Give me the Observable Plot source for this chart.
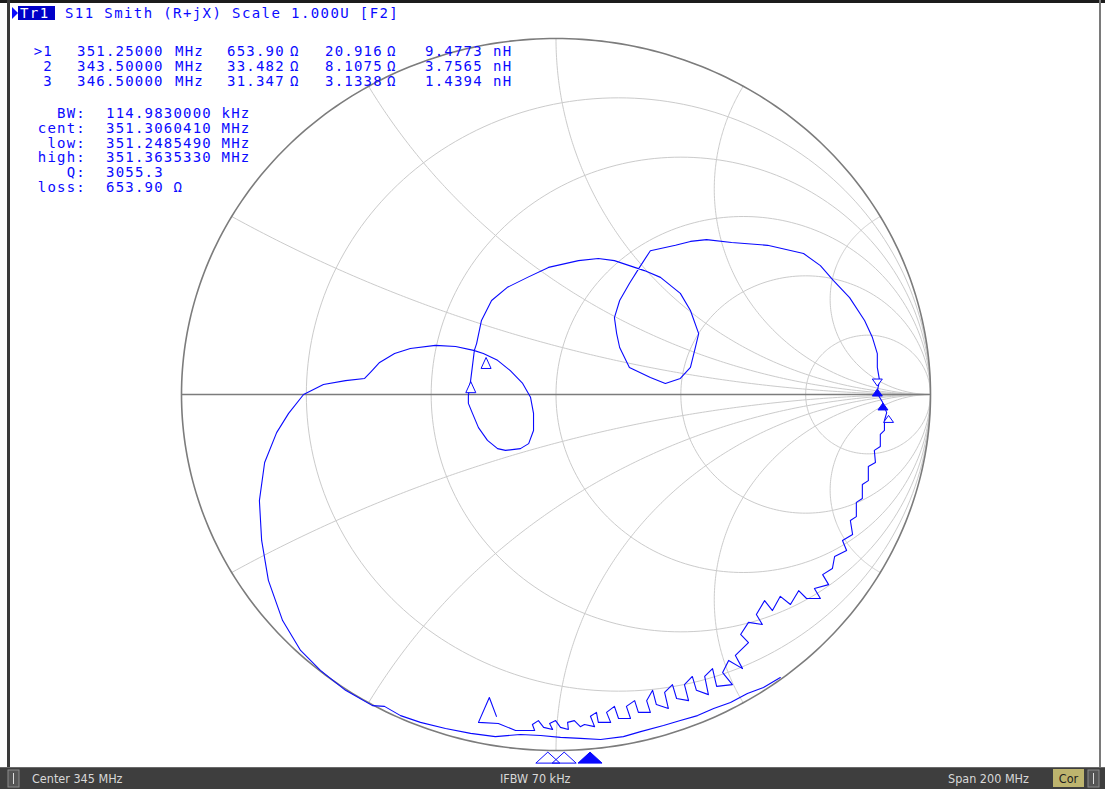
<!DOCTYPE html>
<html><head><meta charset="utf-8">
<script src="https://cdn.jsdelivr.net/npm/d3@7"></script>
<script src="https://cdn.jsdelivr.net/npm/@observablehq/plot@0.6"></script>
<style>
html,body{margin:0;padding:0;background:#fff;overflow:hidden}
#chart{position:relative;width:1105px;height:789px}
</style>
</head><body><div id="chart"></div>
<script>
// ---- grid values (normalised resistance circles / reactance arcs) ----
const rGrid = [0.2, 0.5, 1, 2, 5];
const xGrid = [0.268, 0.577, 1, 1.732, 3.732];

// ---- S11 trace, reflection coefficient ----
const traceRe = [0.599,0.554,0.511,0.466,0.421,0.378,0.332,0.287,0.226,0.180,0.119,0.065,0.012,-0.041,-0.095,-0.162,-0.228,-0.295,-0.362,-0.415,-0.458,-0.490,-0.562,-0.629,-0.682,-0.730,-0.768,-0.786,-0.792,-0.778,-0.746,-0.714,-0.674,-0.621,-0.562,-0.511,-0.493,-0.471,-0.431,-0.389,-0.322,-0.268,-0.220,-0.194,-0.156,-0.122,-0.089,-0.068,-0.060,-0.060,-0.073,-0.095,-0.135,-0.156,-0.183,-0.207,-0.223,-0.234,-0.234,-0.228,-0.223,-0.218,-0.212,-0.199,-0.172,-0.130,-0.076,-0.020,0.060,0.113,0.156,0.196,0.236,0.279,0.332,0.359,0.381,0.372,0.359,0.332,0.292,0.252,0.196,0.170,0.162,0.156,0.170,0.196,0.223,0.252,0.319,0.359,0.402,0.469,0.565,0.661,0.706,0.741,0.784,0.824,0.845,0.858,0.858,0.864,0.857,
0.872,0.883,0.877,0.877,0.866,0.866,0.850,0.853,0.834,0.834,0.818,0.818,0.802,0.802,0.786,0.792,0.765,0.776,0.744,0.738,0.712,0.728,0.690,0.706,0.669,0.648,0.626,0.599,0.578,0.557,0.535,0.551,0.514,0.493,0.514,
0.479,0.498,0.461,0.445,0.471,0.429,0.418,0.397,0.407,0.375,0.364,0.343,0.354,0.322,0.311,0.290,0.300,0.268,0.258,0.242,0.252,0.220,0.210,0.188,0.199,0.167,0.156,0.135,0.146,0.113,0.108,0.092,0.103,0.076,
0.065,0.049,0.031,0.033,0.012,-0.001,-0.017,-0.009,-0.033,-0.047,-0.063,-0.057,-0.108,-0.154,-0.207,-0.178,-0.159];
const traceIm = [-0.795,-0.823,-0.840,-0.865,-0.882,-0.902,-0.916,-0.930,-0.947,-0.961,-0.969,-0.966,-0.963,-0.958,-0.955,-0.961,-0.952,-0.938,-0.921,-0.902,-0.876,-0.874,-0.831,-0.775,-0.719,-0.635,-0.522,-0.410,-0.298,-0.191,-0.107,-0.053,0.000,0.028,0.039,0.045,0.065,0.090,0.115,0.129,0.138,0.135,0.124,0.115,0.096,0.067,0.031,-0.008,-0.053,-0.101,-0.138,-0.152,-0.157,-0.152,-0.129,-0.093,-0.053,-0.025,-0.003,0.039,0.081,0.124,0.143,0.208,0.264,0.301,0.329,0.357,0.376,0.382,0.376,0.362,0.348,0.329,0.284,0.236,0.171,0.132,0.076,0.045,0.031,0.048,0.076,0.132,0.171,0.216,0.264,0.312,0.357,0.404,0.419,0.430,0.435,0.427,0.419,0.396,0.362,0.320,0.272,0.208,0.160,0.115,0.076,0.039,0.005,
-0.022,-0.051,-0.073,-0.101,-0.112,-0.146,-0.157,-0.191,-0.202,-0.242,-0.253,-0.292,-0.303,-0.343,-0.354,-0.393,-0.410,-0.438,-0.455,-0.489,-0.506,-0.534,-0.545,-0.573,-0.573,-0.551,-0.590,-0.567,-0.607,-0.579,-0.618,-0.646,-0.640,-0.674,-0.697,
-0.733,-0.770,-0.747,-0.781,-0.815,-0.820,-0.770,-0.792,-0.843,-0.831,-0.792,-0.815,-0.860,-0.854,-0.815,-0.837,-0.882,-0.871,-0.831,-0.860,-0.893,-0.893,-0.860,-0.876,-0.910,-0.910,-0.876,-0.893,-0.921,-0.921,-0.893,-0.904,-0.933,-0.927,
-0.933,-0.916,-0.921,-0.941,-0.935,-0.916,-0.924,-0.941,-0.935,-0.916,-0.927,-0.944,-0.944,-0.924,-0.921,-0.851,-0.904];

// ---- marker table ----
const markerIds = [">1", "2", "3"];
const markerFreq = [351.25, 343.5, 346.5];
const markerFreqText = ["351.25000", "343.50000", "346.50000"];
const markerR = [653.90, 33.482, 31.347];
const markerRText = ["653.90", "33.482", "31.347"];
const markerX = [20.916, 8.1075, 3.1338];
const markerXText = ["20.916", "8.1075", "3.1338"];
const markerLText = ["9.4773", "3.7565", "1.4394"];
const markerActive = [true, false, false];
const refImpedance = 50;

// ---- bandfilter results ----
const bwLabels = ["BW:", "cent:", "low:", "high:", "Q:", "loss:"];
const bwValues = ["114.9830000 kHz", "351.3060410 MHz", "351.2485490 MHz", "351.3635330 MHz", "3055.3", "653.90 Ω"];
const filterRe = [0.858, 0.873, 0.888];
const filterIm = [0.035, -0.035, -0.070];
const filterFilled = [false, true, false];
const filterDown = [true, false, false];

// ---- channel / status texts ----
const traceName = "Tr1";
const titleText = "S11 Smith (R+jX) Scale 1.000U [F2]";
const stimCenter = 345, stimSpan = 200;
const stimHalfWidth = 1.454; // half width of the stimulus bar in chart units
const statusTexts = ["Center 345 MHz", "IFBW 70 kHz", "Span 200 MHz"];
const corrText = "Cor";

// ---------------------------------------------------------------
function gamma(r, x) {
  const d = (r + 1) * (r + 1) + x * x;
  return {re: (r * r - 1 + x * x) / d, im: 2 * x / d};
}
const grid = [];
rGrid.forEach(r => {
  const c = r / (1 + r), rho = 1 / (1 + r);
  for (let i = 0; i <= 240; i++) {
    const a = 2 * Math.PI * i / 240;
    grid.push({k: "r" + r, re: c + rho * Math.cos(a), im: rho * Math.sin(a)});
  }
});
xGrid.forEach(x => [x, -x].forEach(xv => {
  for (let i = 0; i <= 200; i++) {
    const g = i === 200 ? {re: 1, im: 0} : gamma(Math.tan(Math.PI / 2 * i / 200), xv);
    grid.push({k: "x" + xv, re: g.re, im: g.im});
  }
}));
const outer = d3.range(0, 361).map(a => ({re: Math.cos(a * Math.PI / 180), im: Math.sin(a * Math.PI / 180)}));
const trace = traceRe.map((re, i) => ({re, im: traceIm[i]}));
const markers = markerR.map((R, i) => {
  const zr = R, zx = markerX[i];
  const nr = zr - refImpedance, dr = zr + refImpedance;
  const d = dr * dr + zx * zx;
  return {re: (nr * dr + zx * zx) / d, im: (zx * dr - nr * zx) / d, active: markerActive[i], f: markerFreq[i]};
});
const filters = filterRe.map((re, i) => ({re, im: filterIm[i], filled: filterFilled[i], down: filterDown[i]}));

const triBelow = {draw(c) { c.moveTo(0, 4); c.lineTo(5, 15); c.lineTo(-5, 15); c.closePath(); }};
const triUp = {draw(c) { c.moveTo(0, -4); c.lineTo(5, 3); c.lineTo(-5, 3); c.closePath(); }};
const triDown = {draw(c) { c.moveTo(-5, -3); c.lineTo(5, -3); c.lineTo(0, 4); c.closePath(); }};
const triWide = {draw(c) { c.moveTo(0, -5.5); c.lineTo(12, 5.5); c.lineTo(-12, 5.5); c.closePath(); }};
const stimX = d => (d.f - stimCenter) / (stimSpan / 2) * stimHalfWidth;

const blue = "#0a0aff";
const svg = Plot.plot({
  width: 1105, height: 789,
  marginLeft: 181, marginRight: 175, marginTop: 38, marginBottom: 39,
  x: {domain: [-1, 1], axis: null},
  y: {domain: [-1, 1], axis: null},
  style: {background: "transparent", overflow: "visible"},
  marks: [
    Plot.line(grid, {x: "re", y: "im", z: "k", stroke: "#cbcbcb", strokeWidth: 1}),
    Plot.line(outer, {x: "re", y: "im", stroke: "#7c7c7c", strokeWidth: 1.6}),
    Plot.ruleY([0], {x1: -1, x2: 1, stroke: "#7c7c7c", strokeWidth: 1.6}),
    Plot.line(trace, {x: "re", y: "im", stroke: blue, strokeWidth: 1.1, curve: "linear"}),
    Plot.dot(markers.filter(d => !d.active), {x: "re", y: "im", symbol: triBelow, r: 4, fill: "white", stroke: blue, strokeWidth: 1}),
    Plot.dot(markers.filter(d => d.active), {x: "re", y: "im", symbol: triUp, r: 4, fill: blue, stroke: blue, strokeWidth: 1}),
    Plot.dot(filters.filter(d => d.down), {x: "re", y: "im", symbol: triDown, r: 4, fill: "white", stroke: blue, strokeWidth: 1}),
    Plot.dot(filters.filter(d => !d.down), {x: "re", y: "im", symbol: triUp, r: 4, fill: d => d.filled ? blue : "white", stroke: blue, strokeWidth: 1}),
    Plot.dot(markers.filter(d => !d.active), {x: stimX, y: () => -1.02, symbol: triWide, r: 4, fill: "none", stroke: blue, strokeWidth: 1}),
    Plot.dot(markers.filter(d => d.active), {x: stimX, y: () => -1.02, symbol: triWide, r: 4, fill: blue, stroke: blue, strokeWidth: 1})
  ]
});
document.getElementById("chart").appendChild(svg);

// ---- texts and frame ----
const s = d3.select(svg);
const mono = "'DejaVu Sans Mono', monospace";
const cond = "'DejaVu Sans Condensed', 'Liberation Sans Narrow', 'DejaVu Sans', sans-serif";
s.append("rect").attr("x", 0).attr("y", 0).attr("width", 1105).attr("height", 3).attr("fill", "#1c1c1c");
s.append("rect").attr("x", 7).attr("y", 0).attr("width", 3).attr("height", 767).attr("fill", "#3a3a3a");
s.append("rect").attr("x", 1099).attr("y", 0).attr("width", 2).attr("height", 767).attr("fill", "#7a7a7a");

// header
s.append("polygon").attr("points", "12,7 18,13 12,19").attr("fill", blue);
s.append("rect").attr("x", 18).attr("y", 6).attr("width", 37).attr("height", 14).attr("fill", "#0000c8");
const t = (x, y, txt, opts = {}) => s.append("text").attr("x", x).attr("y", y).text(txt)
  .attr("font-family", opts.family || mono).attr("font-size", opts.size || 14)
  .attr("letter-spacing", opts.ls ?? 1.2).attr("fill", opts.fill || blue)
  .attr("text-anchor", opts.anchor || "start").attr("font-weight", opts.weight || "normal");
t(20, 18, traceName, {fill: "white", ls: 1.4});
t(65, 18, titleText, {ls: 1.4});

// marker table
const rowY = [56, 71, 86];
markerIds.forEach((id, i) => {
  t(53, rowY[i], id, {anchor: "end"});
  t(77, rowY[i], markerFreqText[i]);
  t(175, rowY[i], "MHz");
  t(227, rowY[i], markerRText[i]);
  t(290, rowY[i], "Ω");
  t(325, rowY[i], markerXText[i]);
  t(387, rowY[i], "Ω");
  t(425, rowY[i], markerLText[i]);
  t(493, rowY[i], "nH");
});
// bandfilter block
bwLabels.forEach((lab, i) => {
  const y = 118 + i * 14.8;
  t(86, y, lab, {anchor: "end"});
  t(106, y, bwValues[i]);
});

// status bar
s.append("rect").attr("x", 0).attr("y", 767).attr("width", 1105).attr("height", 22).attr("fill", "#3e3e3e");
s.append("rect").attr("x", 0).attr("y", 767).attr("width", 1105).attr("height", 1).attr("fill", "#6a6a6a");
s.append("rect").attr("x", 8).attr("y", 770).attr("width", 11).attr("height", 17).attr("fill", "#555").attr("stroke", "#8c8c8c");
s.append("rect").attr("x", 1088).attr("y", 770).attr("width", 11).attr("height", 17).attr("fill", "#555").attr("stroke", "#8c8c8c");
s.append("rect").attr("x", 13).attr("y", 773).attr("width", 1).attr("height", 11).attr("fill", "#ddd");
s.append("rect").attr("x", 1093).attr("y", 773).attr("width", 1).attr("height", 11).attr("fill", "#ddd");
const statusX = [32, 500, 948];
statusTexts.forEach((txt, i) => t(statusX[i], 783, txt, {family: cond, size: 12.5, ls: 0, fill: "#d8d8d8"}));
s.append("rect").attr("x", 1053).attr("y", 769).attr("width", 31).attr("height", 18).attr("fill", "#bdb46e");
t(1068.5, 783, corrText, {family: cond, size: 12.5, ls: 0, fill: "#1e1e1e", anchor: "middle"});
</script>
</body></html>
